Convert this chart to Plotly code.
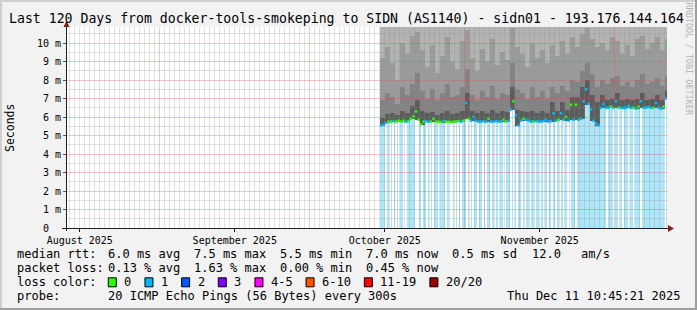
import math
import pandas as pd
import plotly.graph_objects as go

# ---------------- data ----------------
title = "Last 120 Days from docker-tools-smokeping to SIDN (AS1140) - sidn01 - 193.176.144.164"
t_end = pd.Timestamp("2025-12-11 10:45:21")
span_days = 120
first_bin = pd.Timestamp("2025-10-15 00:00")
bin_hours = 12

# median rtt (ms) per 12 h bin
median_ms = [
    5.55, 5.58, 5.68, 5.75, 5.75, 5.78, 5.75, 5.80, 5.75, 5.80,
    5.75, 5.78, 5.90, 6.03, 6.30, 5.85, 5.60, 5.75, 5.78, 5.75,
    5.75, 5.90, 5.75, 5.75, 5.72, 5.78, 5.75, 5.75, 5.72, 5.75,
    5.75, 5.78, 5.75, 5.80, 6.76, 5.90, 5.80, 6.00, 5.80, 5.75,
    5.75, 5.78, 5.75, 5.90, 5.75, 5.75, 5.78, 5.75, 5.75, 5.85,
    5.75, 5.80, 6.40, 6.85, 6.10, 5.55, 5.80, 5.90, 5.85, 5.80,
    5.75, 5.75, 5.78, 5.75, 5.75, 5.78, 5.85, 5.75, 5.78, 6.20,
    5.80, 5.85, 6.20, 5.85, 6.00, 5.80, 6.66, 5.85, 6.66, 5.85,
    5.90, 6.85, 7.50, 6.70, 6.40, 5.80, 5.65, 5.55, 6.49, 6.70,
    6.50, 6.50, 6.55, 6.50, 6.85, 6.50, 6.50, 6.48, 6.50, 6.60,
    6.50, 6.50, 6.45, 6.55, 6.85, 6.50, 6.50, 6.55, 6.50, 6.50,
    6.75, 6.50, 6.45, 6.55, 7.00,
]
# lost pings (of 20) per 12 h bin -> median line colour
median_loss = [
    1, 1, 1, 0, 0, 1, 0, 0, 0, 0,
    1, 0, 0, 0, 0, 0, 0, 0, 1, 1,
    0, 0, 0, 0, 0, 1, 0, 0, 0, 0,
    0, 0, 1, 0, 1, 0, 1, 1, 1, 1,
    1, 1, 1, 0, 1, 1, 1, 1, 1, 0,
    0, 1, 1, 0, 1, 1, 1, 0, 1, 1,
    1, 0, 1, 1, 1, 1, 1, 1, 1, 1,
    1, 0, 1, 1, 0, 1, 0, 1, 0, 1,
    1, 1, 1, 1, 1, 1, 1, 1, 1, 1,
    1, 1, 0, 1, 1, 0, 1, 1, 1, 1,
    1, 0, 1, 0, 1, 1, 1, 1, 1, 0,
    1, 1, 1, 0, 1,
]
# smoke (ping distribution) per day, upper rtt of successive ping ranks (ms)
smoke_inner_ms = [
    5.95, 6.15, 6.20, 6.10, 6.30, 6.20, 6.60, 6.90, 6.30, 6.20,
    6.25, 6.10, 6.20, 6.30, 6.15, 6.20, 6.35, 7.30, 6.30, 6.20,
    6.30, 6.20, 6.40, 6.20, 6.30, 6.25, 7.60, 6.40, 6.30, 6.25,
    6.35, 6.20, 6.30, 6.20, 6.80, 6.30, 6.80, 6.40, 7.10, 7.10,
    7.60, 8.00, 7.20, 6.80, 7.20, 6.90, 6.95, 7.30, 6.90, 6.95,
    6.90, 6.95, 7.30, 6.90, 6.95, 7.20, 6.90, 7.40,
]
smoke_mid_ms = [
    6.9, 7.3, 7.1, 6.7, 7.6, 7.2, 7.8, 8.4, 7.4, 7.0,
    7.5, 6.9, 7.3, 7.8, 7.1, 7.2, 7.6, 8.6, 7.2, 6.9,
    7.4, 7.1, 7.7, 7.0, 7.3, 7.2, 8.9, 7.5, 7.3, 7.0,
    7.6, 7.1, 7.4, 7.0, 7.6, 7.3, 7.7, 7.4, 8.0, 7.9,
    8.5, 8.9, 8.3, 7.6, 8.0, 7.8, 8.1, 8.2, 7.7, 7.9,
    7.6, 8.0, 8.3, 7.8, 7.9, 8.1, 7.7, 8.2,
]
smoke_outer_ms = [
    9.2, 9.8, 8.9, 8.0, 10.0, 9.4, 10.4, 10.6, 9.6, 8.7,
    9.9, 8.4, 9.3, 10.3, 9.0, 8.6, 10.1, 10.7, 9.2, 8.5,
    9.7, 9.0, 10.2, 8.8, 9.5, 9.1, 10.8, 9.8, 9.4, 8.7,
    10.0, 9.2, 9.6, 8.9, 9.9, 9.3, 10.1, 9.4, 10.3, 9.8,
    10.5, 10.8, 10.2, 9.8, 10.0, 9.6, 10.3, 10.1, 9.4, 9.9,
    9.3, 10.2, 10.4, 9.7, 10.0, 10.3, 9.6, 10.2,
]
smoke_max_ms = 12.0

# periods without loss (background not coloured): days after first_bin, duration in hours
noloss_days = [
    1.24, 1.98, 2.64, 3.24, 3.78, 4.78, 5.10, 7.10, 7.64, 8.44,
    9.44, 9.90, 10.64, 11.78, 13.24, 13.90, 14.44, 14.98, 15.64, 16.18,
    17.30, 17.90, 18.58, 19.50, 20.58, 21.24, 22.18, 23.04, 23.70, 24.70,
    26.18, 26.70, 27.38, 28.38, 29.04, 30.04, 31.04, 32.04, 32.70, 33.50,
    34.38, 35.24, 35.90, 36.70, 37.50, 37.98, 39.18, 45.30, 46.70, 47.70,
    48.50, 49.78, 50.78, 52.10, 57.04,
]
noloss_hours = [4.8] * 28 + [9.6, 14.4] + [4.8] * 25

month_labels = ["August 2025", "September 2025", "October 2025", "November 2025"]
month_label_dates = ["2025-08-16", "2025-09-16", "2025-10-16", "2025-11-16"]
month_starts = ["2025-09-01", "2025-10-01", "2025-11-01", "2025-12-01"]
y_tickvals = [0, 1, 2, 3, 4, 5, 6, 7, 8, 9, 10]
y_ticktext = ["0\u00a0\u00a0"] + [f"{v} m" for v in y_tickvals[1:]]

rtt_stats = ["6.0 ms avg", "7.5 ms max", "5.5 ms min", "7.0 ms now", "0.5 ms sd", "12.0", "am/s"]
loss_stats = ["0.13 % avg", "1.63 % max", "0.00 % min", "0.45 % now"]
loss_labels = ["0", "1", "2", "3", "4-5", "6-10", "11-19", "20/20"]
loss_colors = ["#26ff00", "#00b8ff", "#0059ff", "#7e00ff", "#ff00ff", "#ff5500", "#ff0000", "#a10000"]
probe_text = "20 ICMP Echo Pings (56 Bytes) every 300s"
stamp_text = "Thu Dec 11 10:45:21 2025"

# ---------------- layout constants ----------------
W, H = 697, 310
L, R, T, B = 67, 667, 27, 228
PX_PER_MS = 18.5
YMAX = (B - T) / PX_PER_MS
FONT = "DejaVu Sans Mono"
t_start = t_end - pd.Timedelta(days=span_days)
PX_PER_DAY = (R - L) / span_days


def fx(x):
    return (x - L) / (R - L)


def fy(y):
    return (B - y) / (B - T)


def ts(t):
    return pd.Timestamp(t).strftime("%Y-%m-%d %H:%M:%S")


MS_H = 3600 * 1000
fig = go.Figure()

nb = len(median_ms)
bin_start = [first_bin + pd.Timedelta(hours=bin_hours * i) for i in range(nb)]
bin_mid = [ts(b + pd.Timedelta(hours=bin_hours / 2)) for b in bin_start]

# loss background
fig.add_trace(go.Bar(x=bin_mid, y=median_ms, base=[0] * nb, width=bin_hours * MS_H,
                     marker=dict(color="#ade6f9", line=dict(width=0))))
gx, gy, gw = [], [], []
for d, h in zip(noloss_days, noloss_hours):
    t0 = first_bin + pd.Timedelta(days=d)
    i = min(int(d * 24 // bin_hours), nb - 1)
    gx.append(ts(t0 + pd.Timedelta(hours=h / 2)))
    gy.append(median_ms[i])
    gw.append(h * MS_H)
fig.add_trace(go.Bar(x=gx, y=gy, base=[0] * len(gx), width=gw,
                     marker=dict(color="#ffffff", line=dict(width=0))))

# smoke
nd = len(smoke_inner_ms)
day_mid = [ts(first_bin + pd.Timedelta(hours=24 * j + 12)) for j in range(nd)]
smoke_base = []
for j in range(nd):
    vals = median_ms[2 * j:2 * j + 2]
    smoke_base.append(min(vals) - 0.03)
layers = [
    ([smoke_max_ms] * nd, "#b3b3b3"),
    (smoke_outer_ms, "#9b9b9b"),
    (smoke_mid_ms, "#838383"),
    (smoke_inner_ms, "#5c5c5c"),
]
for tops, col in layers:
    fig.add_trace(go.Bar(x=day_mid, base=smoke_base,
                         y=[t - b for t, b in zip(tops, smoke_base)],
                         width=24 * MS_H, marker=dict(color=col, line=dict(width=0))))

# median line coloured by loss
for lv, col in [(0, loss_colors[0]), (1, loss_colors[1])]:
    xs, ys = [], []
    for i in range(nb):
        if median_loss[i] == lv:
            xs += [ts(bin_start[i]), ts(bin_start[i] + pd.Timedelta(hours=bin_hours)), None]
            ys += [median_ms[i], median_ms[i], None]
    fig.add_trace(go.Scatter(x=xs, y=ys, mode="lines", line=dict(color=col, width=2.5)))

for tr in fig.data:
    tr.update(showlegend=False, hoverinfo="skip")

# ---------------- grid (on top of the data, like rrdtool; light to mimic 1:1 dots) ----------------
shapes = []
minor_col = "rgba(143,143,143,0.26)"
major_col = "rgba(222,79,79,0.32)"


def snap(v):
    return math.floor(v) + 0.5


def vline(t, col):
    x = snap(L + (pd.Timestamp(t) - t_start).total_seconds() / 86400 * PX_PER_DAY)
    shapes.append(dict(type="line", xref="paper", yref="paper", x0=fx(x), x1=fx(x),
                       y0=0, y1=1, line=dict(color=col, width=1), layer="above"))


def hline(v, col):
    y = snap(B - v * PX_PER_MS)
    shapes.append(dict(type="line", xref="paper", yref="paper", x0=0, x1=1,
                       y0=fy(y), y1=fy(y), line=dict(color=col, width=1), layer="above"))


for d in pd.date_range("2025-08-14", "2025-12-11", freq="D"):
    if d.day != 1:
        vline(d, minor_col)
for k in range(11):
    if k + 0.5 < YMAX:
        hline(k + 0.5, minor_col)
for m in month_starts:
    vline(m, major_col)
for v in y_tickvals[1:]:
    hline(v, major_col)

# ---------------- decorations ----------------
for (x0, y0, x1, y1, c) in [(0, 0, W, 2, "#cfcfcf"), (0, 0, 2, H, "#cfcfcf"),
                            (0, H - 2, W, H, "#9e9e9e"), (W - 2, 0, W, H, "#9e9e9e")]:
    shapes.append(dict(type="rect", xref="paper", yref="paper", x0=fx(x0), x1=fx(x1),
                       y0=fy(y1), y1=fy(y0), fillcolor=c, line=dict(width=0), layer="below"))
arrow_col = "#7f1f1f"
axis_col = "#1f1f1f"
shapes.append(dict(type="line", xref="paper", yref="paper", x0=fx(R), x1=fx(670), y0=fy(B + 0.5),
                   y1=fy(B + 0.5), line=dict(color=axis_col, width=1)))
shapes.append(dict(type="line", xref="paper", yref="paper", x0=fx(62), x1=fx(L), y0=fy(B + 0.5),
                   y1=fy(B + 0.5), line=dict(color=axis_col, width=1)))
shapes.append(dict(type="line", xref="paper", yref="paper", x0=fx(L - 0.5), x1=fx(L - 0.5), y0=fy(T),
                   y1=fy(23), line=dict(color=axis_col, width=1)))
shapes.append(dict(type="line", xref="paper", yref="paper", x0=fx(L - 0.5), x1=fx(L - 0.5), y0=fy(B),
                   y1=fy(231), line=dict(color=axis_col, width=1)))
shapes.append(dict(type="path", xref="paper", yref="paper",
                   path=f"M {fx(668)},{fy(225)} L {fx(674)},{fy(B + 0.5)} L {fx(668)},{fy(232)} Z",
                   fillcolor=arrow_col, line=dict(width=0)))
shapes.append(dict(type="path", xref="paper", yref="paper",
                   path=f"M {fx(63.5)},{fy(27)} L {fx(L - 0.5)},{fy(20.5)} L {fx(69.5)},{fy(27)} Z",
                   fillcolor=arrow_col, line=dict(width=0)))

annotations = []


def ann(text, x, y, size=12, xanchor="left", color="black", angle=0):
    annotations.append(dict(text=text, x=fx(x), y=fy(y), xref="paper", yref="paper",
                            xanchor=xanchor, yanchor="middle", showarrow=False, borderpad=0,
                            font=dict(family=FONT, size=size, color=color), textangle=angle))


ann(title, 8, 18.5, size=13.2)
ann("Seconds", 10, 128, size=11.5, xanchor="center", angle=-90)
ann("RRDTOOL / TOBI OETIKER", 688.5, 59, size=8.5, xanchor="center", color="#b4b4b4", angle=90)

LX = 15.5
row_y = [254.3, 268.3, 282.3, 296.0]
ann("median rtt:", LX, row_y[0])
for txt, x in zip(rtt_stats, [106.7, 193.3, 279.3, 365.3, 451.3, 530.7, 579.5]):
    ann(txt, x, row_y[0])
ann("packet loss:", LX, row_y[1])
for txt, x in zip(loss_stats, [106.7, 193.3, 279.3, 365.3]):
    ann(txt, x, row_y[1])
ann("loss color:", LX, row_y[2])
CW = 7.22
bx = 108.3
for lab, col in zip(loss_labels, loss_colors):
    shapes.append(dict(type="rect", xref="paper", yref="paper", x0=fx(bx), x1=fx(bx + 8),
                       y0=fy(row_y[2] + 4.5), y1=fy(row_y[2] - 4.5), fillcolor=col,
                       line=dict(color="black", width=1)))
    ann(lab, bx + 15, row_y[2])
    bx = bx + 15 + (len(lab) + 2) * CW
ann("probe:", LX, row_y[3])
ann(probe_text, 106.7, row_y[3])
ann(stamp_text, 680.5, row_y[3], xanchor="right")

fig.update_layout(
    width=W, height=H, autosize=False,
    margin=dict(l=L, r=W - R, t=T, b=H - B, pad=0),
    paper_bgcolor="#f2f2f2", plot_bgcolor="#ffffff",
    barmode="overlay", bargap=0,
    font=dict(family=FONT, size=10, color="black"),
    shapes=shapes, annotations=annotations,
    xaxis=dict(type="date", range=[ts(t_start), ts(t_end)], showgrid=False, zeroline=False,
               showline=True, linecolor=axis_col, linewidth=1,
               tickvals=month_label_dates, ticktext=month_labels, ticks="outside", ticklen=3,
               tickcolor=axis_col, tickfont=dict(family=FONT, size=10), layer="above traces"),
    yaxis=dict(range=[0, YMAX], showgrid=False, zeroline=False, showline=True,
               linecolor=axis_col, linewidth=1, tickvals=y_tickvals, ticktext=y_ticktext,
               ticks="outside", ticklen=3, tickcolor="#555555",
               tickfont=dict(family=FONT, size=10), layer="above traces"),
)

fig.write_html("out.html", config={"displayModeBar": False})
